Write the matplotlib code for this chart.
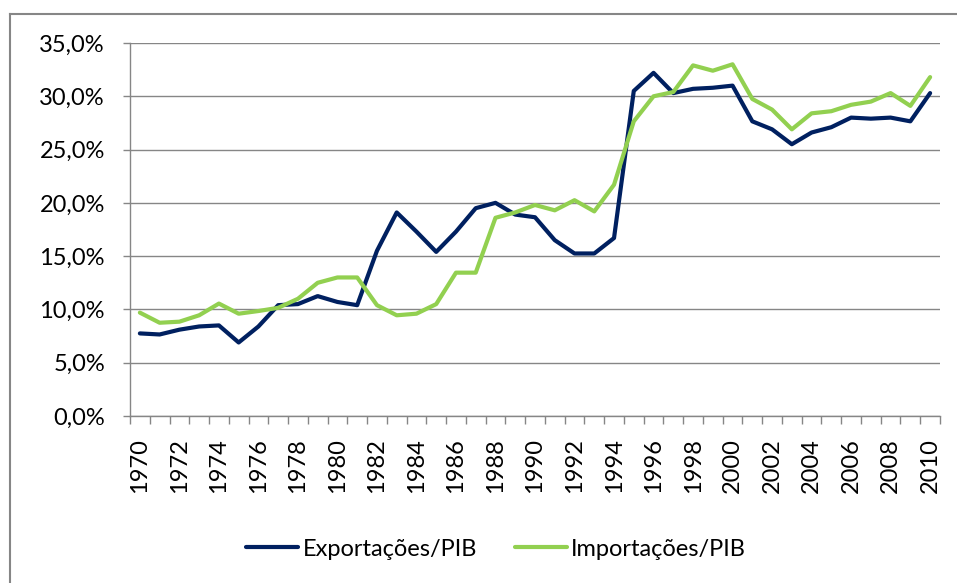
import matplotlib
matplotlib.use('Agg')
import matplotlib.pyplot as plt
from matplotlib.lines import Line2D
from matplotlib.ticker import FuncFormatter, MultipleLocator

plt.rcParams['font.family'] = ['Lato', 'DejaVu Sans']

# Years and series (share of GDP, %)
years = list(range(1970, 2011))
exportacoes = [7.75, 7.65, 8.1, 8.4, 8.5, 6.9, 8.4, 10.4, 10.5, 11.25,
               10.7, 10.4, 15.5, 19.1, 17.3, 15.4, 17.3, 19.5, 20.0, 18.9,
               18.65, 16.5, 15.25, 15.25, 16.7, 30.5, 32.2, 30.3, 30.7, 30.8,
               31.0, 27.65, 26.9, 25.5, 26.6, 27.1, 28.0, 27.9, 28.0, 27.65,
               30.3]
importacoes = [9.7, 8.75, 8.85, 9.45, 10.55, 9.6, 9.85, 10.15, 11.0, 12.5,
               13.0, 13.0, 10.4, 9.45, 9.6, 10.5, 13.45, 13.45, 18.6, 19.1,
               19.8, 19.3, 20.25, 19.2, 21.7, 27.65, 30.0, 30.4, 32.9, 32.4,
               33.0, 29.75, 28.75, 26.9, 28.4, 28.6, 29.2, 29.5, 30.3, 29.1,
               31.8]
labels = ['Exportações/PIB', 'Importações/PIB']

NAVY = '#002060'
GREEN = '#92D050'
GRID = '#868686'
W, H = 957, 583

fig = plt.figure(figsize=(W / 100, H / 100), dpi=100)
ax = fig.add_axes([130 / W, 1 - 416 / H, 810 / W, 373 / H])

ax.plot(years, exportacoes, color=NAVY, lw=3.0, label=labels[0], solid_capstyle='round')
ax.plot(years, importacoes, color=GREEN, lw=3.0, label=labels[1], solid_capstyle='round')

ax.set_xlim(1969.5, 2010.5)
ax.set_ylim(0, 35)
ax.yaxis.set_major_locator(MultipleLocator(5))
ax.yaxis.set_major_formatter(FuncFormatter(lambda v, _: f'{v:.1f}%'.replace('.', ',')))
ax.grid(axis='y', color=GRID, lw=1.0)
ax.set_axisbelow(True)

# category axis: ticks between years, labels on every other year
ax.set_xticks(years[::2])
ax.set_xticks([y + 0.5 for y in range(1969, 2011)], minor=True)
ax.tick_params(axis='x', which='major', length=0, pad=16, labelrotation=90, labelsize=17)
ax.tick_params(axis='x', which='minor', length=6, width=1.0, color=GRID)
ax.tick_params(axis='y', length=5, width=1.0, color=GRID, pad=13, labelsize=17)

for side in ['top', 'right']:
    ax.spines[side].set_visible(False)
for side in ['left', 'bottom']:
    ax.spines[side].set_color(GRID)
    ax.spines[side].set_linewidth(1.0)

# chart area frame (left and top edges visible)
fig.add_artist(Line2D([10 / W, 10 / W], [0, 1 - 14 / H], color=GRID, lw=1.5))
fig.add_artist(Line2D([10 / W, 1], [1 - 14 / H, 1 - 14 / H], color=GRID, lw=1.5))

fig.legend(loc='center', bbox_to_anchor=(496 / W, 1 - 549 / H), ncol=2, frameon=False,
           fontsize=17, handlelength=2.2, handletextpad=0.2, columnspacing=1.6)

fig.savefig('out.png', dpi=100)
